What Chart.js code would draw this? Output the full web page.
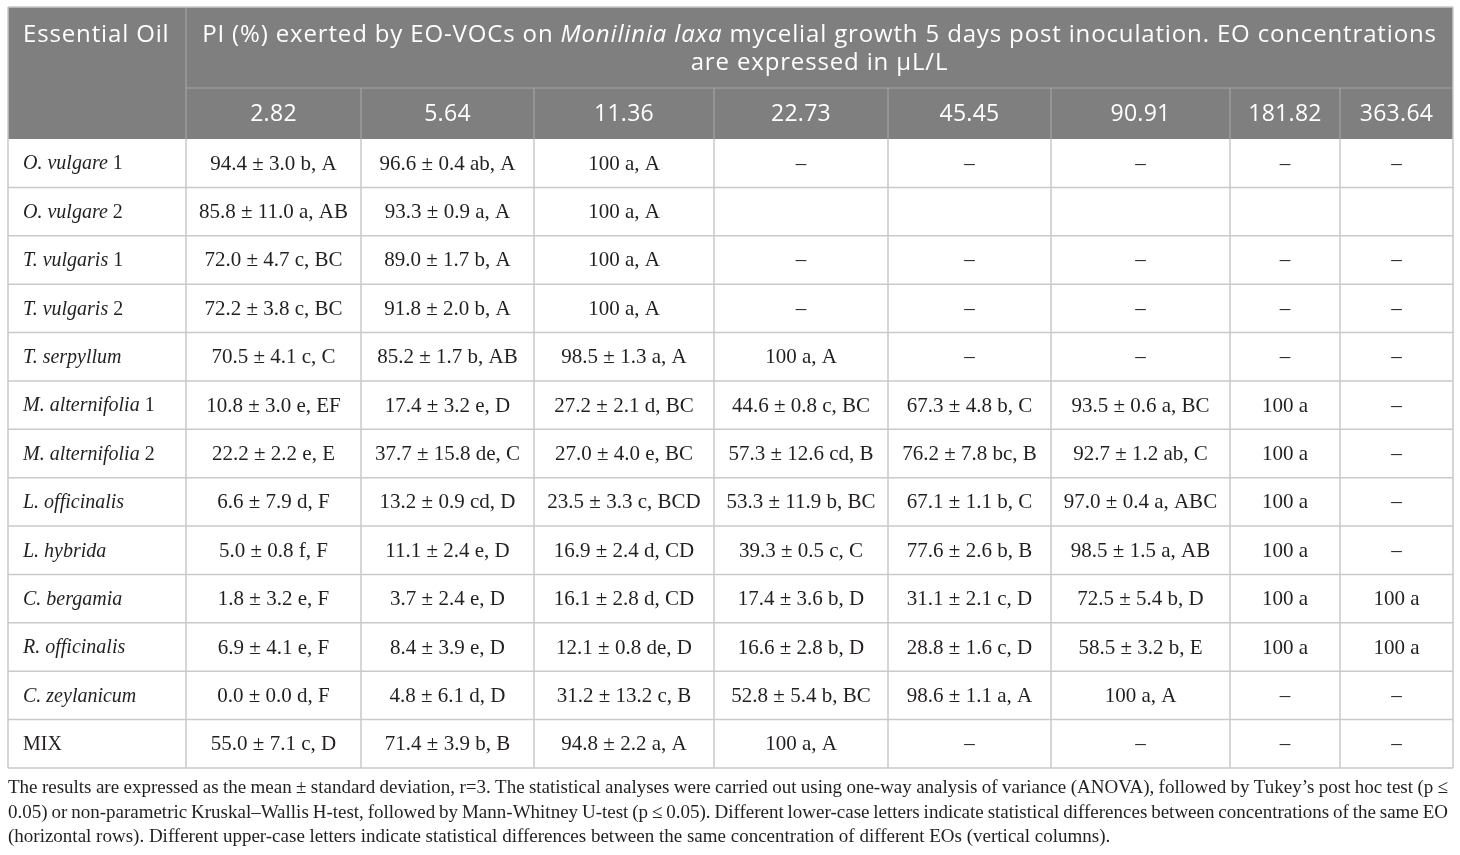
<!DOCTYPE html>
<html>
<head>
<meta charset="utf-8">
<script src="https://cdn.jsdelivr.net/npm/chart.js@4.4.1/dist/chart.umd.min.js"></script>
<style>
  html, body { margin: 0; padding: 0; background: #fff; }
  canvas { display: block; }
</style>
</head>
<body>
<canvas id="table" width="1460" height="855"></canvas>
<script>
// row labels (essential oils) and column labels (EO concentration, uL/L)
const oils = ['O. vulgare 1', 'O. vulgare 2', 'T. vulgaris 1', 'T. vulgaris 2', 'T. serpyllum',
  'M. alternifolia 1', 'M. alternifolia 2', 'L. officinalis', 'L. hybrida', 'C. bergamia',
  'R. officinalis', 'C. zeylanicum', 'MIX'];
const concs = ['2.82', '5.64', '11.36', '22.73', '45.45', '90.91', '181.82', '363.64'];

// PI (%) per concentration, one entry per oil
const pi_2_82 = ['94.4 ± 3.0 b, A', '85.8 ± 11.0 a, AB', '72.0 ± 4.7 c, BC', '72.2 ± 3.8 c, BC', '70.5 ± 4.1 c, C',
  '10.8 ± 3.0 e, EF', '22.2 ± 2.2 e, E', '6.6 ± 7.9 d, F', '5.0 ± 0.8 f, F', '1.8 ± 3.2 e, F',
  '6.9 ± 4.1 e, F', '0.0 ± 0.0 d, F', '55.0 ± 7.1 c, D'];
const pi_5_64 = ['96.6 ± 0.4 ab, A', '93.3 ± 0.9 a, A', '89.0 ± 1.7 b, A', '91.8 ± 2.0 b, A', '85.2 ± 1.7 b, AB',
  '17.4 ± 3.2 e, D', '37.7 ± 15.8 de, C', '13.2 ± 0.9 cd, D', '11.1 ± 2.4 e, D', '3.7 ± 2.4 e, D',
  '8.4 ± 3.9 e, D', '4.8 ± 6.1 d, D', '71.4 ± 3.9 b, B'];
const pi_11_36 = ['100 a, A', '100 a, A', '100 a, A', '100 a, A', '98.5 ± 1.3 a, A',
  '27.2 ± 2.1 d, BC', '27.0 ± 4.0 e, BC', '23.5 ± 3.3 c, BCD', '16.9 ± 2.4 d, CD', '16.1 ± 2.8 d, CD',
  '12.1 ± 0.8 de, D', '31.2 ± 13.2 c, B', '94.8 ± 2.2 a, A'];
const pi_22_73 = ['–', '', '–', '–', '100 a, A',
  '44.6 ± 0.8 c, BC', '57.3 ± 12.6 cd, B', '53.3 ± 11.9 b, BC', '39.3 ± 0.5 c, C', '17.4 ± 3.6 b, D',
  '16.6 ± 2.8 b, D', '52.8 ± 5.4 b, BC', '100 a, A'];
const pi_45_45 = ['–', '', '–', '–', '–',
  '67.3 ± 4.8 b, C', '76.2 ± 7.8 bc, B', '67.1 ± 1.1 b, C', '77.6 ± 2.6 b, B', '31.1 ± 2.1 c, D',
  '28.8 ± 1.6 c, D', '98.6 ± 1.1 a, A', '–'];
const pi_90_91 = ['–', '', '–', '–', '–',
  '93.5 ± 0.6 a, BC', '92.7 ± 1.2 ab, C', '97.0 ± 0.4 a, ABC', '98.5 ± 1.5 a, AB', '72.5 ± 5.4 b, D',
  '58.5 ± 3.2 b, E', '100 a, A', '–'];
const pi_181_82 = ['–', '', '–', '–', '–', '100 a', '100 a', '100 a', '100 a', '100 a', '100 a', '–', '–'];
const pi_363_64 = ['–', '', '–', '–', '–', '–', '–', '–', '–', '100 a', '100 a', '–', '–'];

const columns = [pi_2_82, pi_5_64, pi_11_36, pi_22_73, pi_45_45, pi_90_91, pi_181_82, pi_363_64];

const footnote = [
  'The results are expressed as the mean ± standard deviation, r=3. The statistical analyses were carried out using one-way analysis of variance (ANOVA), followed by Tukey’s post hoc test (p ≤',
  '0.05) or non-parametric Kruskal–Wallis H-test, followed by Mann-Whitney U-test (p ≤ 0.05). Different lower-case letters indicate statistical differences between concentrations of the same EO',
  '(horizontal rows). Different upper-case letters indicate statistical differences between the same concentration of different EOs (vertical columns).'
];

// layout (relative column widths, header row heights)
const colWidths = [178, 175, 173, 180, 174, 163, 179, 110, 113];
const colEdges = colWidths.reduce((acc, w) => { acc.push(acc[acc.length - 1] + w); return acc; }, [0]);
const headRows = [81, 51];

const SANS = '"Open Sans", sans-serif';
const SERIF = '"Liberation Serif", "Times New Roman", serif';
const HEAD_BG = '#7f7f7f';
const GRID = '#c9c9c9';
const INK = '#231f20';

function drawRuns(ctx, runs, x, y, align, spacing) {
  ctx.letterSpacing = (spacing || 0) + 'px';
  let total = 0;
  runs.forEach(r => { ctx.font = r.font; r.w = ctx.measureText(r.t).width; total += r.w; });
  let cx = align === 'center' ? x - total / 2 : x;
  ctx.textAlign = 'left';
  runs.forEach(r => { ctx.font = r.font; ctx.fillText(r.t, cx, y); cx += r.w; });
  ctx.letterSpacing = '0px';
}

function justify(ctx, line, x0, x1, y) {
  const words = line.split(' ');
  const widths = words.map(w => ctx.measureText(w).width);
  const gap = (x1 - x0 - widths.reduce((a, b) => a + b, 0)) / (words.length - 1);
  let cx = x0;
  ctx.textAlign = 'left';
  words.forEach((w, i) => { ctx.fillText(w, cx, y); cx += widths[i] + gap; });
}

const tablePlugin = {
  id: 'tablePlugin',
  beforeDraw(chart) {
    const ctx = chart.ctx;
    ctx.save();
    ctx.fillStyle = '#fff';
    ctx.fillRect(0, 0, chart.width, chart.height);
    ctx.restore();
  },
  afterDraw(chart) {
    const ctx = chart.ctx;
    const xs = chart.scales.x, ys = chart.scales.y;
    const area = chart.chartArea;
    const ex = colEdges.map(v => xs.getPixelForValue(v));
    const band = (ys.getPixelForValue(1) - ys.getPixelForValue(0));
    const headTop = area.top - headRows[0] - headRows[1];
    const headMid = headTop + headRows[0];

    ctx.save();
    // header block
    ctx.fillStyle = HEAD_BG;
    ctx.fillRect(ex[0], headTop, ex[ex.length - 1] - ex[0], area.top - headTop);
    ctx.strokeStyle = '#a3a3a3';
    ctx.lineWidth = 1.2;
    ctx.beginPath();
    ctx.moveTo(ex[1], headTop); ctx.lineTo(ex[1], area.top);
    ctx.moveTo(ex[1], headMid); ctx.lineTo(ex[ex.length - 1], headMid);
    for (let i = 2; i < ex.length - 1; i++) { ctx.moveTo(ex[i], headMid); ctx.lineTo(ex[i], area.top); }
    ctx.stroke();

    ctx.fillStyle = '#fff';
    ctx.textBaseline = 'middle';
    const hf = '24px ' + SANS, hfi = 'italic 24px ' + SANS;
    drawRuns(ctx, [{ t: 'Essential Oil', font: hf }], ex[0] + 15, headTop + 28, 'left', 0.85);
    const midX = (ex[1] + ex[ex.length - 1]) / 2;
    drawRuns(ctx, [
      { t: 'PI (%) exerted by EO-VOCs on ', font: hf },
      { t: 'Monilinia laxa', font: hfi },
      { t: ' mycelial growth 5 days post inoculation. EO concentrations', font: hf }
    ], midX, headTop + 28, 'center', 0.85);
    drawRuns(ctx, [{ t: 'are expressed in μL/L', font: hf }], midX, headTop + 56, 'center', 0.85);
    concs.forEach((c, i) => {
      drawRuns(ctx, [{ t: c, font: '23px ' + SANS }], (ex[i + 1] + ex[i + 2]) / 2, (headMid + area.top) / 2 + 1, 'center', 0.3);
    });

    // body grid
    ctx.strokeStyle = GRID;
    ctx.lineWidth = 1.5;
    ctx.beginPath();
    oils.forEach((o, r) => {
      const yb = ys.getPixelForValue(r) + band / 2;
      ctx.moveTo(ex[0], yb); ctx.lineTo(ex[ex.length - 1], yb);
    });
    ex.forEach(x => { ctx.moveTo(x, area.top); ctx.lineTo(x, area.bottom); });
    ctx.moveTo(ex[0], headTop); ctx.lineTo(ex[0], area.top);
    ctx.moveTo(ex[ex.length - 1], headTop); ctx.lineTo(ex[ex.length - 1], area.top);
    ctx.moveTo(ex[0], headTop); ctx.lineTo(ex[ex.length - 1], headTop);
    ctx.stroke();

    // body cells
    ctx.fillStyle = INK;
    const nf = '20px ' + SERIF, nfi = 'italic 20px ' + SERIF;
    const bf = '21px ' + SERIF;
    oils.forEach((o, r) => {
      const yc = ys.getPixelForValue(r) + 1;
      const m = o.match(/^(.*?)( \d)?$/);
      const runs = o === 'MIX' ? [{ t: o, font: nf }] :
        [{ t: m[1], font: nfi }].concat(m[2] ? [{ t: m[2], font: nf }] : []);
      drawRuns(ctx, runs, ex[0] + 15, yc, 'left');
      columns.forEach((col, c) => {
        if (col[r]) drawRuns(ctx, [{ t: col[r], font: bf }], (ex[c + 1] + ex[c + 2]) / 2, yc, 'center');
      });
    });

    // footnote
    ctx.font = '19px ' + SERIF;
    ctx.textBaseline = 'alphabetic';
    footnote.forEach((line, i) => {
      const y = area.bottom + 25 + i * 24.5;
      if (i < footnote.length - 1) justify(ctx, line, ex[0], ex[ex.length - 1] - 5, y);
      else { ctx.textAlign = 'left'; ctx.fillText(line, ex[0], y); }
    });
    ctx.restore();
  }
};

new Chart(document.getElementById('table'), {
  type: 'scatter',
  data: { datasets: [] },
  options: {
    responsive: false,
    animation: false,
    layout: { padding: { left: 8, right: 7, top: 139, bottom: 87 } },
    plugins: { legend: { display: false }, tooltip: { enabled: false } },
    scales: {
      x: { type: 'linear', min: 0, max: colEdges[colEdges.length - 1], display: false },
      y: { type: 'category', labels: oils, offset: true, display: false }
    }
  },
  plugins: [tablePlugin]
});
</script>
</body>
</html>
